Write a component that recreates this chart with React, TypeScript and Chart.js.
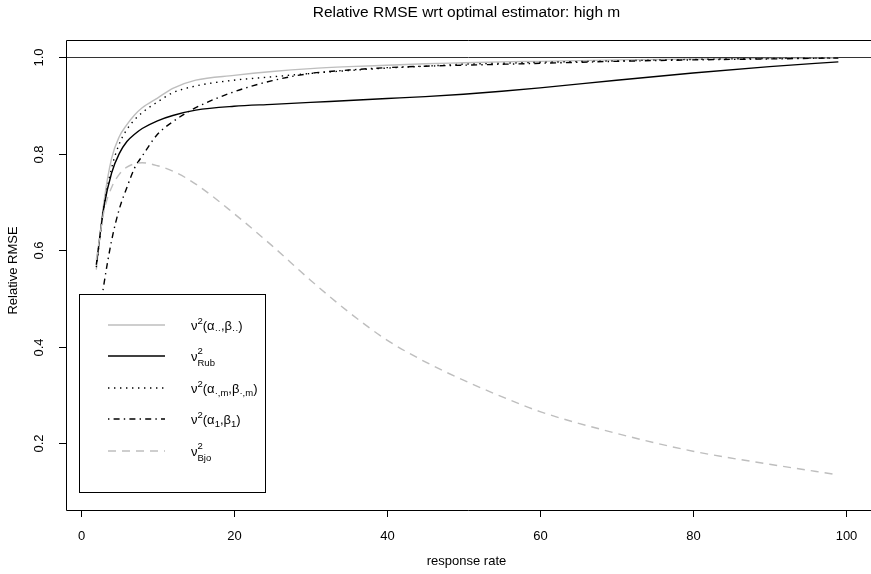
import React, { useEffect, useRef } from 'react';
import { Chart, registerables } from 'chart.js';

Chart.register(...registerables);

// ---------- data ----------
const responseRate = [2, 3, 4, 5, 6, 7, 8, 10, 12, 15, 20, 25, 30, 35, 40, 45, 50, 55, 60, 70, 80, 90, 99];
const optAlphaBeta = [0.56, 0.70, 0.79, 0.835, 0.86, 0.88, 0.895, 0.915, 0.935, 0.952, 0.962, 0.970, 0.976, 0.980, 0.983, 0.986, 0.988, 0.990, 0.991, 0.994, 0.996, 0.997, 0.998];
const rubin = [0.57, 0.69, 0.76, 0.80, 0.825, 0.84, 0.852, 0.868, 0.879, 0.890, 0.898, 0.902, 0.906, 0.910, 0.914, 0.918, 0.923, 0.929, 0.936, 0.952, 0.967, 0.980, 0.99];
const mAlphaBeta = [0.565, 0.69, 0.77, 0.82, 0.85, 0.87, 0.885, 0.907, 0.926, 0.94, 0.952, 0.959, 0.966, 0.972, 0.977, 0.981, 0.985, 0.987, 0.989, 0.992, 0.995, 0.997, 0.998];
const oneAlphaBeta = [0.42, 0.53, 0.62, 0.685, 0.73, 0.77, 0.795, 0.84, 0.866, 0.895, 0.928, 0.951, 0.966, 0.973, 0.978, 0.981, 0.983, 0.985, 0.987, 0.991, 0.994, 0.996, 0.998];
const bjornstad = [0.58, 0.68, 0.73, 0.757, 0.772, 0.779, 0.781, 0.775, 0.764, 0.737, 0.676, 0.609, 0.538, 0.472, 0.414, 0.369, 0.331, 0.297, 0.266, 0.221, 0.184, 0.157, 0.135];

const xTicks = [0, 20, 40, 60, 80, 100];
const xTickLabels = ['0', '20', '40', '60', '80', '100'];
const yTicks = [0.2, 0.4, 0.6, 0.8, 1.0];
const yTickLabels = ['0.2', '0.4', '0.6', '0.8', '1.0'];
const titleText = 'Relative RMSE wrt optimal estimator: high m';
const xTitleText = 'response rate';
const yTitleText = 'Relative RMSE';

// ---------- styles ----------
const GRAY = '#bebebe';
const FONT = '"Liberation Sans", Arial, Helvetica, sans-serif';
const LW = 1.4;

type Seg = { t: string; k: 'n' | 'sup' | 'sub' | 'ss'; t2?: string };

const legendItems: { color: string; dash: number[]; parts: Seg[] }[] = [
  {
    color: GRAY, dash: [],
    parts: [{ t: 'ν', k: 'n' }, { t: '2', k: 'sup' }, { t: '(α', k: 'n' }, { t: '··', k: 'sub' }, { t: ',β', k: 'n' }, { t: '··', k: 'sub' }, { t: ')', k: 'n' }],
  },
  {
    color: '#000', dash: [],
    parts: [{ t: 'ν', k: 'n' }, { t: '2', k: 'ss', t2: 'Rub' }],
  },
  {
    color: '#000', dash: [1.4, 4.6],
    parts: [{ t: 'ν', k: 'n' }, { t: '2', k: 'sup' }, { t: '(α', k: 'n' }, { t: '·,m', k: 'sub' }, { t: ',β', k: 'n' }, { t: '·,m', k: 'sub' }, { t: ')', k: 'n' }],
  },
  {
    color: '#000', dash: [1.4, 4.2, 6, 4.2],
    parts: [{ t: 'ν', k: 'n' }, { t: '2', k: 'sup' }, { t: '(α', k: 'n' }, { t: '1', k: 'sub' }, { t: ',β', k: 'n' }, { t: '1', k: 'sub' }, { t: ')', k: 'n' }],
  },
  {
    color: GRAY, dash: [8, 6],
    parts: [{ t: 'ν', k: 'n' }, { t: '2', k: 'ss', t2: 'Bjo' }],
  },
];

function drawRich(ctx: CanvasRenderingContext2D, x: number, yMid: number, parts: Seg[]) {
  const base = yMid + 4.5;
  let cx = x;
  ctx.textAlign = 'left';
  ctx.textBaseline = 'alphabetic';
  for (const p of parts) {
    if (p.k === 'n') {
      ctx.font = `13px ${FONT}`;
      ctx.fillText(p.t, cx, base);
      cx += ctx.measureText(p.t).width;
    } else if (p.k === 'sup') {
      ctx.font = `9.5px ${FONT}`;
      ctx.fillText(p.t, cx, base - 6);
      cx += ctx.measureText(p.t).width;
    } else if (p.k === 'sub') {
      ctx.font = `9.5px ${FONT}`;
      ctx.fillText(p.t, cx, base + 3);
      cx += ctx.measureText(p.t).width;
    } else {
      ctx.font = `9.5px ${FONT}`;
      ctx.fillText(p.t, cx, base - 7);
      ctx.fillText(p.t2 || '', cx, base + 5);
      cx += Math.max(ctx.measureText(p.t).width, ctx.measureText(p.t2 || '').width);
    }
  }
}

const rPlotPlugin = {
  id: 'rPlot',
  beforeDatasetsDraw(chart: any) {
    const { ctx, chartArea: a, scales } = chart;
    const y = scales.y;
    ctx.save();
    const py = Math.round(y.getPixelForValue(1.0)) + 0.5;
    ctx.strokeStyle = '#333';
    ctx.lineWidth = 1;
    ctx.beginPath();
    ctx.moveTo(a.left, py);
    ctx.lineTo(a.right, py);
    ctx.stroke();
    ctx.restore();
  },
  afterDatasetsDraw(chart: any) {
    const { ctx, chartArea: a, scales } = chart;
    const xs = scales.x;
    const ys = scales.y;
    ctx.save();

    // legend
    const lx0 = 79.5, lx1 = 265.5, ly0 = 294.5, ly1 = 492.5;
    ctx.fillStyle = '#fff';
    ctx.fillRect(lx0, ly0, lx1 - lx0, ly1 - ly0);
    ctx.strokeStyle = '#000';
    ctx.lineWidth = 1;
    ctx.setLineDash([]);
    ctx.strokeRect(lx0, ly0, lx1 - lx0, ly1 - ly0);
    const rows = [325, 356, 388, 419, 451];
    legendItems.forEach((it, i) => {
      const ry = rows[i];
      ctx.strokeStyle = it.color;
      ctx.lineWidth = LW;
      ctx.setLineDash(it.dash);
      ctx.beginPath();
      ctx.moveTo(108, ry);
      ctx.lineTo(165, ry);
      ctx.stroke();
      ctx.setLineDash([]);
      ctx.fillStyle = '#000';
      drawRich(ctx, 191, ry, it.parts);
    });

    // box (left, top, bottom)
    ctx.strokeStyle = '#000';
    ctx.lineWidth = 1;
    ctx.beginPath();
    ctx.moveTo(a.right, a.top + 0.5);
    ctx.lineTo(a.left + 0.5, a.top + 0.5);
    ctx.lineTo(a.left + 0.5, a.bottom + 0.5);
    ctx.lineTo(a.right, a.bottom + 0.5);
    ctx.stroke();

    // x ticks
    ctx.fillStyle = '#000';
    ctx.font = `13px ${FONT}`;
    ctx.textAlign = 'center';
    ctx.textBaseline = 'middle';
    xTicks.forEach((v, i) => {
      const px = Math.round(xs.getPixelForValue(v)) + 0.5;
      ctx.beginPath();
      ctx.moveTo(px, a.bottom);
      ctx.lineTo(px, a.bottom + 7);
      ctx.stroke();
      ctx.fillText(xTickLabels[i], px, a.bottom + 26);
    });
    // y ticks
    yTicks.forEach((v, i) => {
      const py = Math.round(ys.getPixelForValue(v)) + 0.5;
      ctx.beginPath();
      ctx.moveTo(a.left, py);
      ctx.lineTo(a.left - 7, py);
      ctx.stroke();
      ctx.save();
      ctx.translate(a.left - 27, py);
      ctx.rotate(-Math.PI / 2);
      ctx.fillText(yTickLabels[i], 0, 0);
      ctx.restore();
    });

    // titles
    const cxm = (a.left + a.right) / 2;
    ctx.fillText(xTitleText, cxm - 2, a.bottom + 51);
    ctx.save();
    ctx.translate(13, 270.5);
    ctx.rotate(-Math.PI / 2);
    ctx.fillText(yTitleText, 0, 0);
    ctx.restore();
    ctx.font = `15.5px ${FONT}`;
    ctx.fillText(titleText, cxm - 2, 13);

    ctx.restore();
  },
};

const series = [
  { label: 'opt', data: optAlphaBeta, color: GRAY, dash: [] as number[] },
  { label: 'Rub', data: rubin, color: '#000', dash: [] as number[] },
  { label: 'm', data: mAlphaBeta, color: '#000', dash: [1.4, 4.6] },
  { label: '1', data: oneAlphaBeta, color: '#000', dash: [1.4, 4.2, 6, 4.2] },
  { label: 'Bjo', data: bjornstad, color: GRAY, dash: [8, 6] },
];

export default function App() {
  const ref = useRef<HTMLCanvasElement | null>(null);
  useEffect(() => {
    if (!ref.current) return;
    const chart = new Chart(ref.current, {
      type: 'line',
      data: {
        datasets: series.map((s, i) => ({
          label: s.label,
          data: responseRate.map((x, j) => ({ x, y: s.data[j] })),
          borderColor: s.color,
          borderDash: s.dash,
          borderWidth: LW,
          pointRadius: 0,
          fill: false,
          cubicInterpolationMode: 'monotone' as const,
          order: series.length - i,
        })),
      },
      options: {
        animation: false,
        responsive: false,
        maintainAspectRatio: false,
        layout: { padding: { left: 66, top: 40, right: 0, bottom: 64 } },
        scales: {
          x: { type: 'linear', min: -1.96, max: 103.27, display: false },
          y: { type: 'linear', min: 0.0623, max: 1.0352, display: false },
        },
        plugins: {
          legend: { display: false },
          tooltip: { enabled: false },
          title: { display: false },
        },
      },
      plugins: [rPlotPlugin],
    });
    return () => chart.destroy();
  }, []);
  return (
    <div style={{ position: 'fixed', left: 0, top: 0, width: 871, height: 574, background: '#fff' }}>
      <canvas ref={ref} width={871} height={574} style={{ width: 871, height: 574, display: 'block' }} />
    </div>
  );
}
